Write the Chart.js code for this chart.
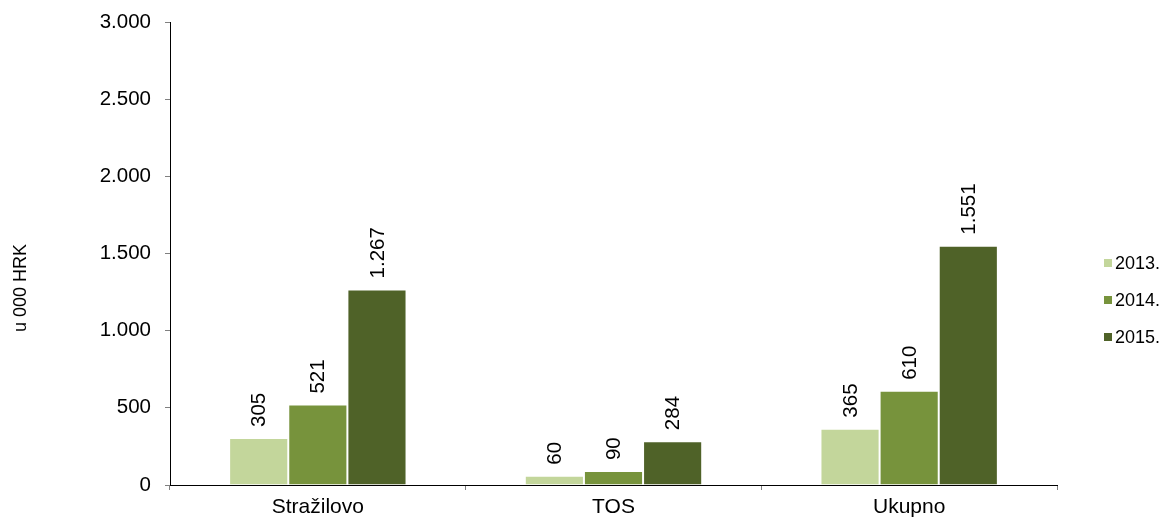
<!DOCTYPE html>
<html>
<head>
<meta charset="utf-8">
<script src="https://cdn.jsdelivr.net/npm/chart.js@4"></script>
<style>
  html, body { margin: 0; padding: 0; background: #fff; }
  #wrap { width: 1164px; height: 524px; }
</style>
</head>
<body>
<div id="wrap"><canvas id="chart" width="1164" height="524"></canvas></div>
<script>
const categories = ["Stražilovo", "TOS", "Ukupno"];
const seriesLabels = ["2013.", "2014.", "2015."];
const values2013 = [305, 60, 365];
const values2014 = [521, 90, 610];
const values2015 = [1267, 284, 1551];
const yTicks = [0, 500, 1000, 1500, 2000, 2500, 3000];
const yTitle = "u 000 HRK";

const colors = ["#c3d69b", "#77933c", "#4f6228"];
const fontFamily = "'Liberation Sans', Arial, sans-serif";

function formatNumber(value) {
  return new Intl.NumberFormat("de-DE").format(value);
}

// value labels, rotated, sitting above each bar
const barLabels = {
  id: "barLabels",
  afterDatasetsDraw(chart) {
    const ctx = chart.ctx;
    ctx.save();
    ctx.fillStyle = "#000";
    ctx.font = "20.5px " + fontFamily;
    ctx.textAlign = "left";
    ctx.textBaseline = "middle";
    chart.data.datasets.forEach((ds, i) => {
      chart.getDatasetMeta(i).data.forEach((bar, j) => {
        ctx.save();
        ctx.translate(bar.x + 1, bar.y - 11);
        ctx.rotate(-Math.PI / 2);
        ctx.fillText(formatNumber(ds.data[j]), 0, 0);
        ctx.restore();
      });
    });
    ctx.restore();
  }
};

// y title and legend on the right
const extras = {
  id: "extras",
  afterDraw(chart) {
    const ctx = chart.ctx;
    ctx.save();
    ctx.fillStyle = "#000";
    ctx.font = "18px " + fontFamily;
    ctx.textAlign = "center";
    ctx.textBaseline = "middle";
    ctx.translate(21, 288);
    ctx.rotate(-Math.PI / 2);
    ctx.fillText(yTitle, 0, 0);
    ctx.restore();

    ctx.save();
    ctx.font = "18px " + fontFamily;
    ctx.textAlign = "left";
    ctx.textBaseline = "middle";
    chart.data.datasets.forEach((ds, i) => {
      const y = 263 + i * 37;
      ctx.fillStyle = ds.backgroundColor;
      ctx.fillRect(1104, y - 4, 8, 8);
      ctx.fillStyle = "#000";
      ctx.fillText(ds.label, 1115, y + 1);
    });
    ctx.restore();
  }
};

new Chart(document.getElementById("chart"), {
  type: "bar",
  data: {
    labels: categories,
    datasets: [values2013, values2014, values2015].map((vals, i) => ({
      label: seriesLabels[i],
      data: vals,
      backgroundColor: colors[i],
      borderColor: "#ffffff",
      borderWidth: 1,
      categoryPercentage: 0.6,
      barPercentage: 1
    }))
  },
  options: {
    responsive: false,
    animation: false,
    devicePixelRatio: 1,
    layout: {
      padding: { left: 0, top: 22, right: 107, bottom: 0 }
    },
    plugins: {
      legend: { display: false },
      tooltip: { enabled: false }
    },
    scales: {
      x: {
        grid: {
          display: true,
          drawOnChartArea: false,
          drawTicks: true,
          tickLength: 5,
          color: "#808080"
        },
        border: { color: "#000", width: 1 },
        ticks: {
          color: "#000",
          padding: 5,
          font: { family: fontFamily, size: 21 }
        },
        afterFit(scale) {
          scale.height = 39;
          scale.paddingLeft = 0;
          scale.paddingRight = 0;
        }
      },
      y: {
        min: 0,
        max: 3000,
        afterBuildTicks(scale) {
          scale.ticks = yTicks.map((v) => ({ value: v }));
        },
        grid: {
          display: true,
          drawOnChartArea: false,
          drawTicks: true,
          tickLength: 5,
          color: "#808080"
        },
        border: { color: "#000", width: 1 },
        ticks: {
          color: "#000",
          padding: 14,
          font: { family: fontFamily, size: 20.5 },
          callback: (value) => formatNumber(value)
        },
        afterFit(scale) {
          scale.width = 170;
          scale.paddingTop = 0;
          scale.paddingBottom = 0;
        }
      }
    }
  },
  plugins: [barLabels, extras]
});
</script>
</body>
</html>
